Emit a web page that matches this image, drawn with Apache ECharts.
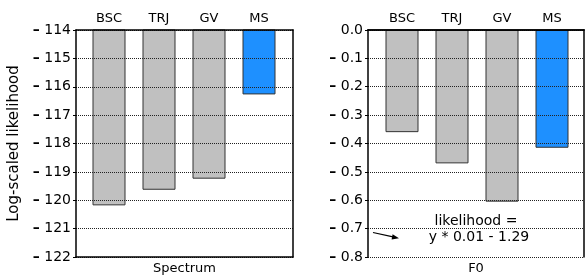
<!DOCTYPE html>
<html>
<head>
<meta charset="utf-8">
<script src="https://cdn.jsdelivr.net/npm/echarts@6/dist/echarts.min.js"></script>
<style>
  html, body { margin: 0; padding: 0; background: #fff; }
  #main { width: 585px; height: 278px; }
</style>
</head>
<body>
<div id="main"></div>
<script>
var categories = ['BSC', 'TRJ', 'GV', 'MS'];
var spectrumValues = [-120.18, -119.63, -119.24, -116.27];
var f0Values = [-0.36, -0.47, -0.605, -0.415];
var spectrumAxis = { min: -122, max: -114, interval: 1 };
var f0Axis = { min: -0.8, max: 0, interval: 0.1 };
var panelNames = ['Spectrum', 'F0'];

var font = 'DejaVu Sans, Verdana, sans-serif';
var gray = '#c0c0c0';
var blue = '#1e90ff';

function dashLabel(v, digits) {
    if (Math.abs(v) < 1e-9) return (0).toFixed(digits);
    return '{d|–} ' + Math.abs(v).toFixed(digits);
}
var labelRich = { d: { fontWeight: 'bold', fontSize: 14, fontFamily: font, color: '#000' } };

function barData(vals) {
    return vals.map(function (v, i) {
        return {
            value: v,
            itemStyle: { color: categories[i] === 'MS' ? blue : gray }
        };
    });
}

var myChart = echarts.init(document.getElementById('main'));

// frame grids 0,1 ; bar grids 2,3
var frames = [
    { left: 76, width: 217 },
    { left: 368, width: 216 }
];
var barGrids = [
    { left: 84, width: 200 },
    { left: 377, width: 200 }
];
var axes = [spectrumAxis, f0Axis];
var digits = [0, 1];

var grid = [], xAxis = [], yAxis = [], series = [];
frames.forEach(function (f) {
    grid.push({ left: f.left, width: f.width, top: 30, height: 227 });
});
barGrids.forEach(function (f) {
    grid.push({ left: f.left, width: f.width, top: 30, height: 227 });
});

for (var p = 0; p < 2; p++) {
    // bottom frame axis with panel name
    xAxis.push({
        type: 'category', gridIndex: p, position: 'bottom', data: [panelNames[p]], z: 5,
        axisLine: { lineStyle: { color: '#000', width: 1.5 } },
        axisTick: { alignWithLabel: true, inside: true, length: 4, lineStyle: { color: '#000' } },
        axisLabel: { color: '#000', fontSize: 13, fontFamily: font, margin: 5 }
    });
    // top frame axis
    xAxis.push({
        type: 'category', gridIndex: p, position: 'top', data: [panelNames[p]], z: 5,
        axisLine: { lineStyle: { color: '#000', width: 1.5 } },
        axisTick: { alignWithLabel: true, inside: true, length: 3, lineStyle: { color: '#000' } },
        axisLabel: { show: false }
    });
    yAxis.push({
        type: 'value', gridIndex: p, position: 'left', z: 5,
        min: axes[p].min, max: axes[p].max, interval: axes[p].interval,
        name: p === 0 ? 'Log-scaled likelihood' : '',
        nameLocation: 'middle', nameGap: 54,
        nameTextStyle: { color: '#000', fontSize: 15, fontFamily: font },
        axisLine: { show: true, lineStyle: { color: '#000', width: 1.5 } },
        axisTick: { show: true, length: 3, lineStyle: { color: '#000' } },
        axisLabel: {
            color: '#000', fontSize: 14, fontFamily: font, margin: 5, rich: labelRich,
            formatter: (function (d) { return function (v) { return dashLabel(v, d); }; })(digits[p])
        },
        splitLine: { show: true, lineStyle: { type: 'dotted', color: '#222', width: 1 } }
    });
    yAxis.push({
        type: 'value', gridIndex: p, position: 'right', z: 5,
        min: axes[p].min, max: axes[p].max, interval: axes[p].interval,
        axisLine: { show: true, lineStyle: { color: '#000', width: 1.5 } },
        axisTick: { show: false }, axisLabel: { show: false }, splitLine: { show: false }
    });
}
// bar grids
for (var q = 0; q < 2; q++) {
    xAxis.push({
        type: 'category', gridIndex: 2 + q, position: 'top', data: categories,
        axisLine: { show: false }, axisTick: { show: false },
        axisLabel: { color: '#000', fontSize: 13, fontFamily: font, margin: 5 }
    });
    yAxis.push({
        type: 'value', gridIndex: 2 + q,
        min: axes[q].min, max: axes[q].max, interval: axes[q].interval,
        axisLine: { show: false }, axisTick: { show: false },
        axisLabel: { show: false }, splitLine: { show: false }
    });
}

series.push({
    type: 'bar', xAxisIndex: 4, yAxisIndex: 4, barWidth: 33, clip: true,
    itemStyle: { borderColor: '#333', borderWidth: 1 },
    data: barData(spectrumValues)
});
series.push({
    type: 'bar', xAxisIndex: 5, yAxisIndex: 5, barWidth: 33, clip: true,
    itemStyle: { borderColor: '#333', borderWidth: 1 },
    data: barData(f0Values)
});

option = {
    animation: false,
    backgroundColor: '#fff',
    grid: grid,
    xAxis: xAxis,
    yAxis: yAxis,
    series: series,
    graphic: [
        {
            type: 'text', x: 476, y: 221, z: 10,
            style: { text: 'likelihood =', fill: '#000', font: '14px ' + font, textAlign: 'center', textVerticalAlign: 'middle' }
        },
        {
            type: 'text', x: 479, y: 237.5, z: 10,
            style: { text: 'y * 0.01 - 1.29', fill: '#000', font: '14px ' + font, textAlign: 'center', textVerticalAlign: 'middle' }
        },
        {
            type: 'line', z: 10,
            shape: { x1: 373, y1: 232.5, x2: 393, y2: 236.8 },
            style: { stroke: '#000', lineWidth: 1.2 }
        },
        {
            type: 'polygon', z: 10,
            shape: { points: [[399, 238.2], [391.6, 239.6], [392.6, 234.2]] },
            style: { fill: '#000' }
        }
    ]
};
myChart.setOption(option);
</script>
</body>
</html>
